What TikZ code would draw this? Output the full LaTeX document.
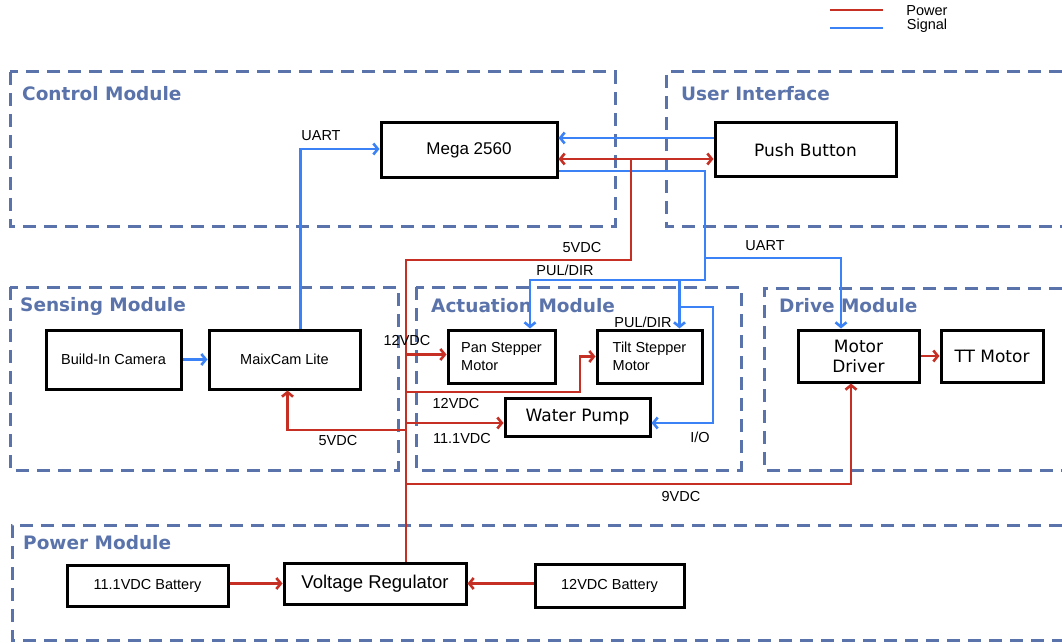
\documentclass[tikz,border=0pt]{standalone}
\usepackage{fontspec}
\setmainfont{Liberation Sans}
\newfontfamily\dvfont{DejaVu Sans}
\usetikzlibrary{arrows.meta}

\definecolor{modblue}{RGB}{90,115,170}
\definecolor{pwrred}{RGB}{198,47,36}
\definecolor{sigblue}{RGB}{59,130,246}

\tikzset{
  blk/.style={draw=black, line width=3pt, inner sep=0pt, font=\fontsize{14.5}{18}\selectfont},
  blkdv/.style={blk, font=\dvfont\fontsize{17}{20}\selectfont},
  modfrm/.style={draw=modblue, line width=3pt, dash pattern=on 13pt off 8pt},
  modttl/.style={anchor=west, inner sep=0pt, text=modblue, font=\dvfont\bfseries\fontsize{18.5}{20}\selectfont},
  lbl/.style={inner sep=0pt, font=\fontsize{14.5}{16}\selectfont},
  pwr/.style={draw=pwrred, line width=2.6pt},
  sig/.style={draw=sigblue, line width=2.6pt},
  arr/.style={-{Straight Barb[length=4.5pt,width=11pt]}},
  arrtwo/.style={{Straight Barb[length=4.5pt,width=11pt]}-{Straight Barb[length=4.5pt,width=11pt]}}
}

\begin{document}
\begin{tikzpicture}[x=1pt,y=-1pt]
  \useasboundingbox (0,0) rectangle (1062,644);

      % legend
      \path (830,10) coordinate (lg0) (883,10) coordinate (lg1)
            (830,28) coordinate (lg2) (883,28) coordinate (lg3);
      \draw[pwr] (lg0) -- (lg1);
      \draw[sig] (lg2) -- (lg3);
      \node[lbl] (lgpwr) at (927,11) {Power};
      \node[lbl] (lgsig) at (927,26) {Signal};

      % module frames
      \draw[modfrm] (10,72) rectangle (615,227);
      \draw[modfrm] (1062,72) -- (666,72) -- (666,227) -- (1062,227);
      \draw[modfrm] (10,287) rectangle (398,470);
      \draw[modfrm] (416,287) rectangle (741,470);
      \draw[modfrm] (1062,288) -- (764,288) -- (764,470) -- (1062,470);
      \draw[modfrm] (1062,525) -- (12,525) -- (12,640) -- (1062,640);
      \node[modttl] (tctl) at (22,94) {Control Module};
      \node[modttl] (tui) at (681,94) {User Interface};
      \node[modttl] (tsen) at (20,306) {Sensing Module};
      \node[modttl] (tact) at (431,306) {Actuation Module};
      \node[modttl] (tdrv) at (779,306) {Drive Module};
      \node[modttl] (tpwr) at (23,543) {Power Module};

      % blocks
      \node[blk, minimum width=176pt, minimum height=55pt, font=\fontsize{17}{20}\selectfont] (mega) at (469,150.5) {Mega 2560};
      \node[blkdv, minimum width=181pt, minimum height=54pt] (push) at (805.5,150) {Push Button};
      \node[blk, minimum width=135pt, minimum height=59pt] (cam) at (113.5,359.5) {Build-In Camera};
      \node[blk, minimum width=151pt, minimum height=59pt] (maix) at (284.5,359.5) {MaixCam Lite};
      \node[blk, minimum width=107pt, minimum height=53pt, align=left] (pan) at (501.5,356.5) {Pan Stepper\\Motor};
      \node[blk, minimum width=105pt, minimum height=53pt, align=left] (tilt) at (649.5,356.5) {Tilt Stepper\\Motor};
      \node[blkdv, minimum width=145pt, minimum height=38pt] (pump) at (577.5,417) {Water Pump};
      \node[blkdv, minimum width=121pt, minimum height=52pt, align=center] (driver) at (858.5,356) {Motor\\Driver};
      \node[blkdv, minimum width=102pt, minimum height=52pt] (tt) at (992,356) {TT Motor};
      \node[blk, minimum width=161pt, minimum height=41pt] (bat1) at (147.5,585.5) {11.1VDC Battery};
      \node[blk, minimum width=182pt, minimum height=41pt, font=\fontsize{18.5}{20}\selectfont] (reg) at (375,583.5) {Voltage Regulator};
      \node[blk, minimum width=149pt, minimum height=43pt] (bat2) at (609.5,585.5) {12VDC Battery};

      % signal
      \path (705,258) coordinate (s0) (705,280) coordinate (s1)
            (679.5,307) coordinate (s2) (713,307) coordinate (s3);
      \draw[sig,arr] (cam) -- (maix);
      \draw[sig,arr] ([xshift=16pt]maix.north) |- ([yshift=1.5pt]mega.west);
      \draw[sig,arr] ([yshift=12pt]push.west) -- ([yshift=12pt]push.west -| mega.east);
      \draw[sig,arr] ([yshift=-20.5pt]mega.east) -| (s0) -| ([xshift=-17.5pt]driver.north);
      \draw[sig,arr] (s0) -- (s1) -| ([xshift=28.5pt]pan.north);
      \draw[sig,arr] (s1) -| ([xshift=30pt]tilt.north);
      \draw[sig,arr] (s2) -- (s3) |- ([yshift=-6pt]pump.east);

      % power
      \path (406,260) coordinate (p0) (631,260) coordinate (p1) (631,159) coordinate (p2)
            (406,392) coordinate (p3) (580,392) coordinate (p4)
            (406,423) coordinate (p5) (406,430) coordinate (p6) (406,484) coordinate (p7);
      \draw[pwr] ([xshift=31pt]reg.north) -- (p0) -- (p1) -- (p2);
      \draw[pwr,arrtwo] ([yshift=-8.5pt]mega.east) -- ([yshift=-8.5pt]mega.east -| push.west);
      \draw[pwr,arr] ([yshift=2pt]pan.west -| p0) -- ([yshift=2pt]pan.west);
      \draw[pwr,arr] (p3) -- (p4) |- (tilt.west);
      \draw[pwr,arr] (p5) -- ([yshift=-6pt]pump.west);
      \draw[pwr,arr] (p6) -| ([xshift=3pt]maix.south);
      \draw[pwr,arr] (p7) -| ([xshift=-7.5pt]driver.south);
      \draw[pwr,arr] (driver) -- (tt);
      \draw[pwr,arr] (bat1.east |- reg.west) -- (reg.west);
      \draw[pwr,arr] (bat2.west |- reg.east) -- (reg.east);

      % labels
      \node[lbl] (l0) at (321,136) {UART};
      \node[lbl] (l1) at (582,248) {5VDC};
      \node[lbl] (l2) at (565,270) {PUL/DIR};
      \node[lbl] (l3) at (765,246) {UART};
      \node[lbl] (l4) at (407,341) {12VDC};
      \node[lbl] (l5) at (643,322) {PUL/DIR};
      \node[lbl] (l6) at (456,404) {12VDC};
      \node[lbl] (l7) at (462,439) {11.1VDC};
      \node[lbl] (l8) at (338,441) {5VDC};
      \node[lbl] (l9) at (700,437) {I/O};
      \node[lbl] (l10) at (681,497) {9VDC};
\end{tikzpicture}
\end{document}
